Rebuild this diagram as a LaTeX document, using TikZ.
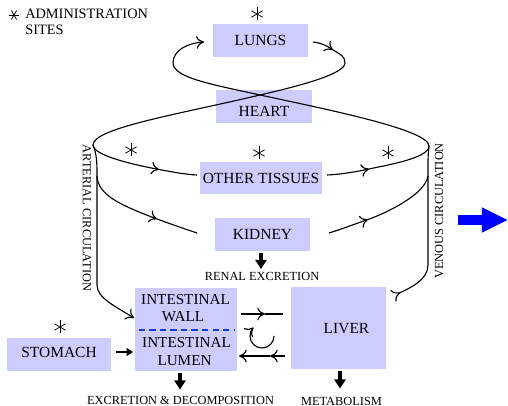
\documentclass[tikz,border=0pt]{standalone}
\usepackage{fontspec}
\setmainfont{Liberation Serif}
\usetikzlibrary{arrows.meta,calc}
\definecolor{organ}{RGB}{204,204,255}
\definecolor{wallblue}{RGB}{20,60,220}
\begin{document}
\begin{tikzpicture}[x=0.025cm,y=-0.025cm,
  organ/.style={fill=organ, draw=none, inner sep=0pt,
    font=\fontsize{11}{13}\selectfont, text height=7.3pt, text depth=0pt},
  organtext/.style={inner sep=0pt, font=\fontsize{10.8}{12}\selectfont,
    text height=7.1pt, text depth=0pt},
  flow/.style={line width=0.8pt},
  head/.style={-{To[length=5.5pt,width=9pt]}},
  backhead/.style={-{To[length=5.5pt,width=9pt,reversed]}},
  outlet/.style={line width=2.3pt, shorten <=1.5pt, -{Triangle[length=6.5pt,width=8pt]}},
  note/.style={inner sep=0pt, font=\fontsize{8.8}{10}\selectfont,
    text height=5.8pt, text depth=0pt},
  legend/.style={anchor=base west, inner sep=0pt, font=\fontsize{10.2}{12}\selectfont},
  site/.pic={\foreach \a in {90,30,-30}{\draw[line width=0.55pt] (\a:6.5) -- (\a+180:6.5);}},
]
\useasboundingbox (0,0) rectangle (508,406);

% legend
\pic[rotate=90, scale=0.8] at (14,15) {site};
\node[legend] (admin) at (25,18.3) {ADMINISTRATION};
\node[legend] (sites) at (25,35) {SITES};

% organs
\node[organ, minimum width=2.375cm, minimum height=0.825cm] (lungs) at (260.5,40.5) {LUNGS};
\node[organ, minimum width=2.4cm, minimum height=0.825cm, text height=13.7pt] (heart) at (264,106.5) {HEART};
\node[organ, minimum width=3.05cm, minimum height=0.8cm] (tissues) at (261,178) {OTHER TISSUES};
\node[organ, minimum width=2.375cm, minimum height=0.825cm] (kidney) at (262.5,234.5) {KIDNEY};
\node[organ, minimum width=2.55cm, minimum height=2.075cm] (gut) at (186,329.5) {};
\node[organ, minimum width=2.6cm, minimum height=0.825cm, text depth=2.8pt] (stomach) at (59,354.5) {STOMACH};
\node[organ, minimum width=2.375cm, minimum height=2.05cm] (liver) at (338.5,328) {};
\node[organtext, font=\fontsize{11}{13}\selectfont, text height=7.3pt] (livername) at (346.5,328) {LIVER};

\node[organtext] (wall1) at (185.5,299.5) {INTESTINAL};
\node[organtext] (wall2) at (183,316.5) {WALL};
\node[organtext] (lumen1) at (186.5,343) {INTESTINAL};
\node[organtext] (lumen2) at (184.5,360.5) {LUMEN};
\draw[wallblue, line width=1.4pt, dash pattern=on 4.5pt off 3pt]
  ($(gut.west)+(4,0.5)$) -- ($(gut.east)+(-3,0.5)$);

% administration sites
\pic at (257,14) {site};
\pic at (131,150) {site};
\pic at (259,153) {site};
\pic at (388,153) {site};
\pic at (60,327) {site};

% key points of the circulation
\coordinate (cross) at (260,95);
\coordinate (artV) at (93,145);
\coordinate (venV) at (429,146);
\coordinate (lungOut) at (313,42);
\coordinate (lungIn) at (204,42);
\coordinate (pulmA) at (333,50);
\coordinate (tisIn) at (197,175);
\coordinate (tisA) at (159,169.5);
\coordinate (tisOut) at (327,175);
\coordinate (tisB) at (369,169);
\coordinate (kidIn) at (197,233);
\coordinate (kidA) at (157,219);
\coordinate (kidOut) at (329,233);
\coordinate (kidB) at (368,219.5);
\coordinate (artK) at (97,176);
\coordinate (venK) at (428,176);
\coordinate (gutIn) at (134,318);
\coordinate (livOut) at (393,296);

% lungs -> heart -> arterial side -> other tissues
\draw[flow,head] (lungOut) .. controls (322,43) and (328,46.6) .. (pulmA);
\draw[flow,head] (pulmA) .. controls (340,54.2) and (345,56) .. (345,63)
  .. controls (345,75) and (290,88) .. (cross)
  .. controls (180,114) and (93,128) .. (artV)
  .. controls (93,155) and (130,164) .. (tisA);
\draw[flow] (tisA) .. controls (170,171.5) and (185,174.5) .. (tisIn);

% other tissues -> venous side -> heart -> lungs
\draw[flow,head] (tisOut) .. controls (340,174.5) and (355,172) .. (tisB);
\draw[flow,head] (tisB) .. controls (388,164.9) and (429,158) .. (venV)
  .. controls (429,130) and (330,110) .. (cross)
  .. controls (215,85) and (173,78) .. (173,63)
  .. controls (173,50) and (188,43) .. (lungIn);

% arterial circulation
\draw[flow,head] (artV) .. controls (96,152) and (97,160) .. (97,172) -- (97,285)
  .. controls (97,298) and (115,306) .. (gutIn);
\draw[flow,head] (artK) .. controls (98,195) and (120,205) .. (kidA);
\draw[flow] (kidA) .. controls (170,223.8) and (185,229) .. (kidIn);

% venous circulation
\draw[flow,backhead] (venV) .. controls (428,156) .. (428,172) -- (428,265)
  .. controls (428,280) and (410,288) .. (livOut);
\draw[flow,head] (kidOut) .. controls (342,229) and (355,224) .. (kidB);
\draw[flow] (kidB) .. controls (385,213.5) and (425,195) .. (venK);

% intestine <-> liver
\coordinate (g1) at (241,314);
\coordinate (gm) at (265,314);
\coordinate (l1) at (283,314);
\draw[flow,head] (g1) -- (gm);
\draw[flow] (gm) -- (l1);
\coordinate (l2) at (285,356);
\coordinate (lm) at (270,356);
\coordinate (g2) at (239,356);
\draw[flow,head] (l2) -- (lm);
\draw[flow,head] (lm) -- (g2);
\coordinate (loopStart) at (274,336);
\draw[flow,head] (loopStart) arc[start angle=0, end angle=225, radius=12];

% stomach -> lumen
\coordinate (st1) at (116,352);
\coordinate (st2) at (133,352);
\draw[line width=1.5pt, -{Triangle[length=4.5pt,width=5.5pt]}] (st1) -- (st2);

% elimination
\node[note] (renal) at (262,276.5) {RENAL EXCRETION};
\node[note] (excr) at (180.5,400.5) {EXCRETION \& DECOMPOSITION};
\node[note] (metab) at (341.5,401) {METABOLISM};
\coordinate (renaltip) at (261,269);
\coordinate (exctip) at (180,389.5);
\coordinate (mettip) at (340,388.5);
\draw[outlet] (kidney.south -| renaltip) -- (renaltip);
\draw[outlet] (gut.south -| exctip) -- (exctip);
\draw[outlet] (liver.south -| mettip) -- (mettip);

% side labels
\node[note, rotate=-90] (arterial) at (87,218) {ARTERIAL CIRCULATION};
\node[note, rotate=90] (venous) at (439,211) {VENOUS CIRCULATION};

% big arrow
\coordinate (bigA) at (458,220);
\coordinate (bigB) at (508,220);
\draw[blue, line width=7pt, -{Triangle[length=18.5pt,width=16.5pt]}] (bigA) -- (bigB);
\end{tikzpicture}
\end{document}
